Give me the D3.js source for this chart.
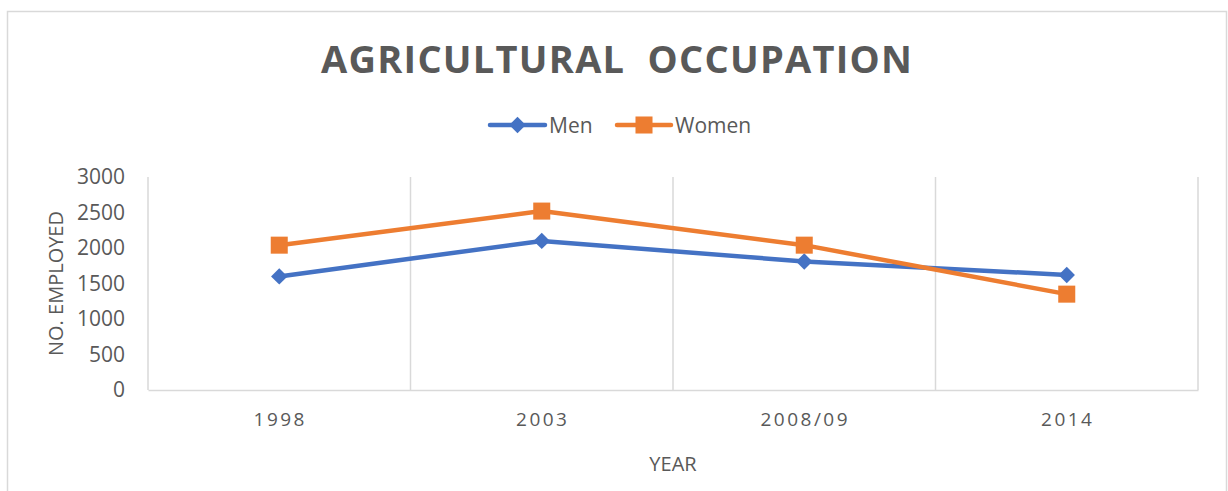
<!DOCTYPE html>
<html>
<head>
<meta charset="utf-8">
<script src="https://cdn.jsdelivr.net/npm/d3@7"></script>
<style>
  html, body { margin: 0; padding: 0; background: #fff; }
  text { font-family: "Open Sans", sans-serif; fill: #595959; }
</style>
</head>
<body>
<svg id="chart" width="1228" height="491"></svg>
<script>
var years = ["1998", "2003", "2008/09", "2014"];
var men = [1600, 2100, 1810, 1620];
var women = [2040, 2520, 2040, 1350];
var yTicks = [0, 500, 1000, 1500, 2000, 2500, 3000];

var svg = d3.select("#chart");
var width = +svg.attr("width"),
    height = +svg.attr("height");

var plot = { left: 148, right: 1198, top: 177, bottom: 390 };

// outer frame
svg.append("rect")
    .attr("x", 7.5).attr("y", 11.5)
    .attr("width", 1219).attr("height", 500)
    .attr("fill", "none")
    .attr("stroke", "#d9d9d9")
    .attr("stroke-width", 1.5);

var x = d3.scaleBand().domain(years).range([plot.left, plot.right]);
var y = d3.scaleLinear().domain([0, 3000]).range([plot.bottom, plot.top]);

// vertical grid lines at category boundaries
var bounds = years.map(function (d) { return x(d); }).concat([plot.right]);
svg.append("g").selectAll("line")
    .data(bounds)
    .enter().append("line")
    .attr("x1", function (d) { return d; })
    .attr("x2", function (d) { return d; })
    .attr("y1", plot.top)
    .attr("y2", plot.bottom)
    .attr("stroke", "#d9d9d9")
    .attr("stroke-width", 1.5);

// x axis
var xAxis = svg.append("g")
    .attr("transform", "translate(0," + plot.bottom + ")")
    .call(d3.axisBottom(x).tickSize(0).tickPadding(0));
xAxis.select(".domain").attr("stroke", "#d9d9d9").attr("stroke-width", 1.5);
xAxis.selectAll("text")
    .attr("y", 36)
    .attr("dy", null)
    .attr("dx", "1px")
    .style("font-size", "19px")
    .style("letter-spacing", "2.5px")
    .attr("fill", "#595959");

// y axis labels
var yAxis = svg.append("g")
    .attr("transform", "translate(" + plot.left + ",0)")
    .call(d3.axisLeft(y).tickValues(yTicks).tickFormat(d3.format("d")).tickSize(0).tickPadding(23));
yAxis.select(".domain").remove();
yAxis.selectAll("text")
    .style("font-size", "21px")
    .attr("fill", "#595959");

// series
var series = [
    { name: "Men", values: men, color: "#4472C4" },
    { name: "Women", values: women, color: "#ED7D31" }
];

var line = d3.line()
    .x(function (d, i) { return x(years[i]) + x.bandwidth() / 2; })
    .y(function (d) { return y(d); });

var diamond = d3.symbol().type(d3.symbolSquare).size(135)();
var square = d3.symbol().type(d3.symbolSquare).size(290)();

function markerTransform(s, cx, cy) {
    return "translate(" + cx + "," + cy + ")" + (s.name === "Men" ? " rotate(45)" : "");
}

series.forEach(function (s) {
    svg.append("path")
        .datum(s.values)
        .attr("d", line)
        .attr("fill", "none")
        .attr("stroke", s.color)
        .attr("stroke-width", 4.5)
        .attr("stroke-linejoin", "round");
    svg.append("g").selectAll("path")
        .data(s.values)
        .enter().append("path")
        .attr("d", s.name === "Men" ? diamond : square)
        .attr("transform", function (d, i) {
            return markerTransform(s, x(years[i]) + x.bandwidth() / 2, y(d));
        })
        .attr("fill", s.color);
});

// title
svg.append("text")
    .attr("x", 321).attr("y", 73)
    .attr("textLength", 591)
    .attr("lengthAdjust", "spacing")
    .style("font-size", "38px")
    .style("font-weight", "bold")
    .style("white-space", "pre")
    .text("AGRICULTURAL  OCCUPATION");

// legend
var legendPos = [{ x1: 490, x2: 545, tx: 549 }, { x1: 617, x2: 671, tx: 675 }];
series.forEach(function (s, i) {
    var p = legendPos[i], ly = 125;
    svg.append("line")
        .attr("x1", p.x1).attr("x2", p.x2)
        .attr("y1", ly).attr("y2", ly)
        .attr("stroke", s.color)
        .attr("stroke-width", 4.5)
        .attr("stroke-linecap", "round");
    svg.append("path")
        .attr("d", s.name === "Men" ? diamond : square)
        .attr("transform", markerTransform(s, (p.x1 + p.x2) / 2, ly))
        .attr("fill", s.color);
    svg.append("text")
        .attr("x", p.tx).attr("y", ly + 7.5)
        .style("font-size", "21px")
        .text(s.name);
});

// axis titles
svg.append("text")
    .attr("x", 673).attr("y", 471)
    .attr("text-anchor", "middle")
    .style("font-size", "20px")
    .text("YEAR");

svg.append("text")
    .attr("transform", "translate(63," + (plot.top + plot.bottom) / 2 + ") rotate(-90)")
    .attr("text-anchor", "middle")
    .style("font-size", "20px")
    .text("NO. EMPLOYED");
</script>
</body>
</html>
